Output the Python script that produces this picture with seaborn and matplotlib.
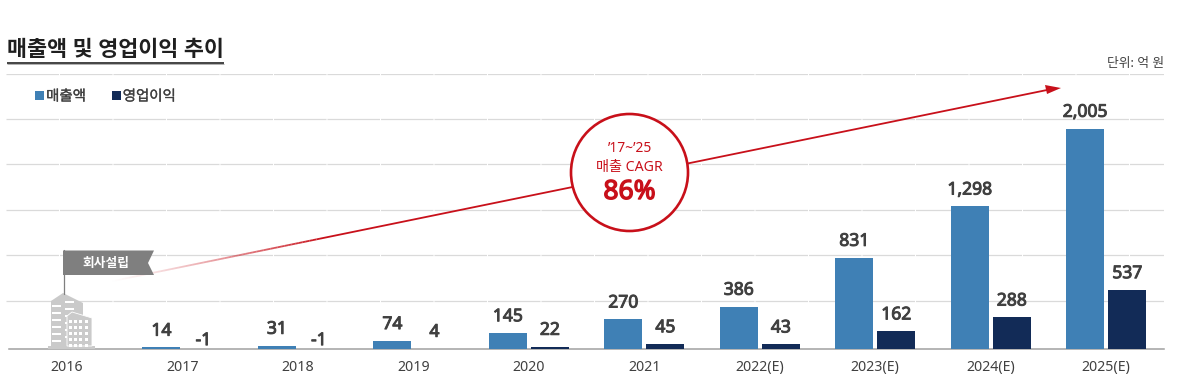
import numpy as np
import pandas as pd
import seaborn as sns
import matplotlib
matplotlib.use("Agg")
import matplotlib.pyplot as plt
import matplotlib.patheffects as pe
from matplotlib.patches import Polygon, Rectangle, Circle
from matplotlib.collections import LineCollection

years = ["2016", "2017", "2018", "2019", "2020", "2021", "2022(E)", "2023(E)", "2024(E)", "2025(E)"]
revenue = [np.nan, 14, 31, 74, 145, 270, 386, 831, 1298, 2005]
op_profit = [np.nan, -1, -1, 4, 22, 45, 43, 162, 288, 537]
series_names = ["매출액", "영업이익"]
grid_values = [437, 851, 1265, 1679, 2093, 2502]

sns.set_theme(style="white")
plt.rcParams['font.family'] = ['Noto Sans', 'Noto Sans CJK KR', 'DejaVu Sans']

BLUE, NAVY, TXT, RED = "#3f80b5", "#122b57", "#404040", "#c8101a"
W, H = 1182, 387
fig = plt.figure(figsize=(W / 100, H / 100), dpi=100, facecolor="white")

# plot area in pixels
L, R, T, B = 6, 1164, 74, 349
ax = fig.add_axes([L / W, 1 - B / H, (R - L) / W, (B - T) / H])
df = pd.DataFrame({
    "year": years * 2,
    "value": revenue + op_profit,
    "series": [series_names[0]] * 10 + [series_names[1]] * 10,
})
sns.barplot(data=df, x="year", y="value", hue="series", order=years, hue_order=series_names,
            palette=[BLUE, NAVY], width=0.727, gap=0.095, ax=ax, saturation=1, legend=True, errorbar=None)
for p in ax.patches:
    p.set_linewidth(0)
    p.set_zorder(3)

step = 115.55
ax.set_xlim((L - 67) / step, (R - 67) / step)
ax.set_ylim(0, 2502)
ax.set_xlabel("")
ax.set_ylabel("")
ax.set_yticks(grid_values)
ax.set_yticklabels([])
ax.tick_params(axis="y", length=0)
ax.yaxis.grid(True, color="#dadada", lw=0.9, linestyle=(0, (42, 0.8)))
ax.set_axisbelow(True)
ax.xaxis.grid(False)
for s in ("top", "left", "right"):
    ax.spines[s].set_visible(False)
ax.spines["bottom"].set_color("#a0a0a0")
ax.spines["bottom"].set_linewidth(1.1)
ax.spines["bottom"].set_bounds(-0.5, 9.5)
ax.spines["bottom"].set_zorder(2)
ax.set_xticks(range(10))
ax.set_xticklabels(years, fontsize=10.2, color=TXT)
ax.set_xticks(np.arange(-0.5, 10, 1), minor=True)
ax.tick_params(axis="x", which="major", length=0, pad=8)
ax.tick_params(axis="x", which="minor", direction="in", length=3.6, width=0.9, color="#a0a0a0")

# value labels (stroked to give the heavy weight of the original numerals)
heavy = [pe.withStroke(linewidth=0.7, foreground=TXT)]
offset = 0.182
for i in range(1, 10):
    for vals, dx in ((revenue, -offset), (op_profit, offset)):
        v = vals[i]
        ax.annotate(f"{v:,}", (i + dx, max(v, 0)), xytext=(0, 12.1 if v > 0 else 6.4),
                    textcoords="offset points", ha="center", va="center",
                    fontsize=12.6, color=TXT, annotation_clip=False, path_effects=heavy)

# legend
leg = ax.legend(loc="upper left", bbox_to_anchor=(35 / W, 1 - 89.5 / H), bbox_transform=fig.transFigure,
                ncol=2, frameon=False, fontsize=10.4, handlelength=0.65, handleheight=0.65,
                handletextpad=0.12, columnspacing=1.78, borderpad=0, borderaxespad=0)
for t in leg.get_texts():
    t.set_color(TXT)
    t.set_path_effects([pe.withStroke(linewidth=0.2, foreground=TXT)])

# overlay in pixel coordinates for annotation graphics
ov = fig.add_axes([0, 0, 1, 1], facecolor="none")
ov.set_xlim(0, W)
ov.set_ylim(H, 0)
ov.axis("off")

ov.text(7, 50.5, "매출액 및 영업이익 추이", fontsize=15.7, fontweight="bold", color="#1f1f1f", va="center", ha="left")
ov.plot([7, 224], [63.2, 63.2], color="#111111", lw=1.1, solid_capstyle="butt")
ov.plot([7, 224], [64.4, 64.4], color="#b0b0b0", lw=0.7, solid_capstyle="butt")
ov.text(1164, 63, "단위: 억 원", fontsize=9.2, color=TXT, va="center", ha="right")

# trend arrow: fading tail then solid red
x0, y0, x1, y1 = 108, 282, 1047, 90
n = 60
xs = np.linspace(x0, 320, n + 1)
ys = y0 + (xs - x0) * (y1 - y0) / (x1 - x0)
segs = [[(xs[i], ys[i]), (xs[i + 1], ys[i + 1])] for i in range(n)]
cols = [(200 / 255, 16 / 255, 26 / 255, (i / n) ** 1.3) for i in range(n)]
ov.add_collection(LineCollection(segs, colors=cols, linewidths=1.3, capstyle="butt"))
ov.plot([320, x1], [y0 + (320 - x0) * (y1 - y0) / (x1 - x0), y1], color=RED, lw=1.3, solid_capstyle="butt")
ov.add_patch(Polygon([(1061, 88), (1045, 85), (1047, 94)], closed=True, fc=RED, ec="none"))

# CAGR badge
ov.add_patch(Circle((629.5, 172.5), 58.5, fc="white", ec=RED, lw=1.9, zorder=5))
ov.text(629.5, 149, "’17~’25", fontsize=10, color=RED, ha="center", va="center", zorder=6)
ov.text(629.5, 167, "매출 CAGR", fontsize=10.2, color=RED, ha="center", va="center", zorder=6)
ov.text(629.5, 192, "86%", fontsize=19, color=RED, ha="center", va="center", zorder=6,
        path_effects=[pe.withStroke(linewidth=1.0, foreground=RED)])

# founding flag
GREY = "#7f7f7f"
ov.plot([63.5, 63.5], [250, 294], color=GREY, lw=0.9, zorder=5)
ov.add_patch(Polygon([(63, 250.5), (154, 250.5), (148, 263), (154, 275), (63, 275)], closed=True,
                     fc=GREY, ec="none", zorder=5))
ov.text(106, 263, "회사설립", fontsize=9.2, fontweight="bold", color="white", ha="center", va="center", zorder=6)

# building icon
BLD = "#cacaca"
ov.add_patch(Polygon([(51, 301), (63, 293), (83, 303), (83, 346), (51, 346)], closed=True, fc=BLD, ec="none"))
ov.add_patch(Rectangle((48, 346), 47, 3, fc=BLD, ec="none"))
for yy in range(305, 345, 7):
    ov.add_patch(Rectangle((52, yy), 9, 2.4, fc="white", ec="none"))
    ov.add_patch(Rectangle((65, yy - 4), 9, 2, fc="white", ec="none"))
ov.add_patch(Polygon([(67, 316), (72, 312), (92, 318), (92, 346), (67, 346)], closed=True, fc=BLD, ec="white", lw=0.6))
for yy in range(320, 345, 6):
    for xx in (69, 74, 79, 85):
        ov.add_patch(Rectangle((xx, yy), 3, 3, fc="white", ec="none"))

fig.savefig("out.png", dpi=100, facecolor="white")
